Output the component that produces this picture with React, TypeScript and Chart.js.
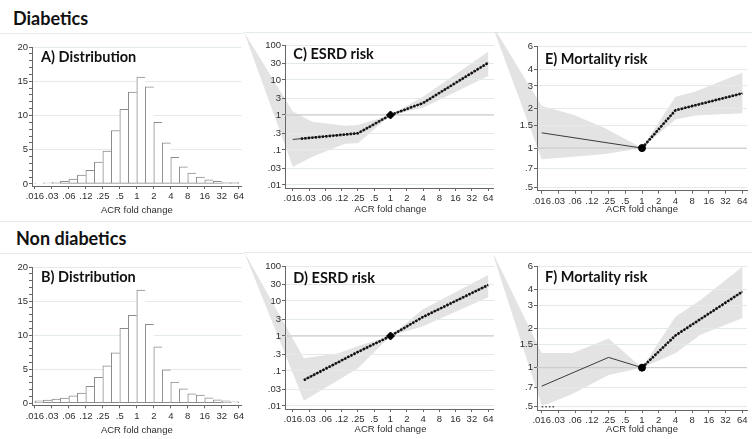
import React, { useEffect, useRef } from 'react';
import { Chart, registerables } from 'chart.js';

Chart.register(...registerables);
Chart.defaults.font.family = "'Liberation Sans', Arial, sans-serif";

// ---------------- data ----------------
const xTickValues = [1 / 64, 1 / 32, 1 / 16, 1 / 8, 1 / 4, 1 / 2, 1, 2, 4, 8, 16, 32, 64];
const xTickLabels = ['.016', '.03', '.06', '.12', '.25', '.5', '1', '2', '4', '8', '16', '32', '64'];

// histogram bins (centres, log2 of ACR fold change, half-octave bins)
const binCentersLog2 = [-5.75, -5.25, -4.75, -4.25, -3.75, -3.25, -2.75, -2.25, -1.75, -1.25, -0.75, -0.25,
  0.25, 0.75, 1.25, 1.75, 2.25, 2.75, 3.25, 3.75, 4.25, 4.75, 5.25, 5.75];
const distDiabetics = [0.1, 0.15, 0.25, 0.4, 0.7, 1.3, 2.0, 3.2, 4.8, 7.8, 10.9, 13.4,
  15.6, 14.2, 9.0, 6.0, 3.9, 2.5, 1.6, 1.0, 0.6, 0.4, 0.2, 0.2];
const distNonDiabetics = [0.35, 0.45, 0.6, 0.75, 1.1, 1.5, 2.5, 3.8, 5.5, 7.4, 11.0, 12.9,
  16.6, 11.6, 8.3, 4.9, 3.1, 2.1, 1.4, 1.2, 0.8, 0.5, 0.35, 0.2];
const distTickValues = [0, 1, 2, 3, 4, 5, 6, 7, 8, 9, 10, 11, 12, 13, 14, 15, 16, 17, 18, 19, 20];

const esrdTickValues = [0.01, 0.03, 0.1, 0.3, 1, 3, 10, 30, 100];
const esrdTickLabels = ['.01', '.03', '.1', '.3', '1', '3', '10', '30', '100'];
const mortTickValues = [0.5, 0.7, 1, 1.5, 2, 3, 4, 6];
const mortTickLabels = ['.5', '.7', '1', '1.5', '2', '3', '4', '6'];

// C) ESRD risk, diabetics
const esrdDiabX = [1 / 64, 0.25, 1, 4, 64];
const esrdDiabHR = [0.2, 0.3, 1, 2.2, 31];
const esrdDiabSigX = [0.022, 0.25, 1, 4, 64];
const esrdDiabSigHR = [0.21, 0.3, 1, 2.2, 31];
const esrdDiabBandX = [1 / 512, 1 / 64, 0.036, 0.144, 0.25, 1, 4, 64];
const esrdDiabUpper = [235, 1.25, 0.64, 0.49, 0.52, 1, 3.3, 64];
const esrdDiabLower = [235, 0.033, 0.064, 0.15, 0.155, 1, 1.6, 13];

// D) ESRD risk, non diabetics
const esrdNonX = [0.025, 0.25, 1, 4, 64];
const esrdNonHR = [0.055, 0.35, 1, 3.5, 28.6];
const esrdNonBandX = [1 / 512, 0.025, 0.109, 0.25, 1, 4, 64];
const esrdNonUpper = [257, 0.23, 0.32, 0.52, 1, 5.8, 55];
const esrdNonLower = [257, 0.014, 0.055, 0.12, 1, 1.9, 12.8];

// E) Mortality risk, diabetics
const mortDiabX = [1 / 64, 1, 4, 64];
const mortDiabHR = [1.31, 1, 1.95, 2.63];
const mortDiabSigX = [1, 4, 64];
const mortDiabSigHR = [1, 1.95, 2.63];
const mortDiabBandX = [1 / 512, 1 / 64, 0.058, 0.218, 1, 4, 9.2, 64];
const mortDiabUpper = [9, 2.1, 1.8, 1.42, 1, 2.48, 2.72, 3.78];
const mortDiabLower = [9, 0.82, 0.86, 0.9, 1, 1.66, 1.78, 1.85];

// F) Mortality risk, non diabetics
const mortNonX = [1 / 64, 0.25, 1, 4, 64];
const mortNonHR = [0.72, 1.2, 1, 1.77, 3.85];
const mortNonSigX = [1, 4, 64];
const mortNonSigHR = [1, 1.77, 3.85];
const mortNonLowSigX = [1 / 64, 0.027];
const mortNonLowSigHR = [0.5, 0.5];
const mortNonBandX = [1 / 512, 1 / 64, 0.021, 0.057, 0.25, 1, 4, 11.3, 64];
const mortNonUpper = [8.1, 1.3, 1.3, 1.3, 1.68, 1, 2.47, 3.33, 6.0];
const mortNonLower = [8.1, 0.51, 0.53, 0.63, 0.88, 1, 1.29, 1.79, 2.4];

// ---------------- layout / style ----------------
type Geom = {
  left: number; top: number; width: number; height: number;
  axisW: number; axisH: number; padTop: number; padRight: number;
  xSpan: number; titlePad: number; frameBottom: boolean;
};

const GEOM: Record<string, Geom> = {
  A: { left: 0, top: 33, width: 246, height: 189, axisW: 32, axisH: 36, padTop: 14, padRight: 0, xSpan: 6.17, titlePad: 6.1, frameBottom: true },
  B: { left: 0, top: 253, width: 246, height: 186, axisW: 32, axisH: 33.7, padTop: 14, padRight: 0, xSpan: 6.17, titlePad: 2.9, frameBottom: false },
  C: { left: 244, top: 32, width: 257, height: 190, axisW: 41, axisH: 34, padTop: 13, padRight: 0, xSpan: 6.48, titlePad: 7.1, frameBottom: true },
  D: { left: 244, top: 252, width: 257, height: 187, axisW: 41, axisH: 30, padTop: 14, padRight: 0, xSpan: 6.48, titlePad: 4.1, frameBottom: false },
  E: { left: 494, top: 32, width: 258, height: 190, axisW: 43, axisH: 31.3, padTop: 14.7, padRight: 2.2, xSpan: 6.28, titlePad: 6.6, frameBottom: true },
  F: { left: 494, top: 252, width: 258, height: 187, axisW: 43, axisH: 28.9, padTop: 14.7, padRight: 2.2, xSpan: 6.28, titlePad: 3.9, frameBottom: false },
};

const GRID = '#e2eaed';
const FRAME = '#e4ebee';
const AXIS = '#666666';
const TEXT = '#2e2e2e';
const BAND = '#e3e3e3';
const tickFont = { family: "'Liberation Sans', Arial, sans-serif", size: 9.5 };

const zip = (xs: number[], ys: number[]) => xs.map((x, i) => ({ x, y: ys[i] }));

function makeFramePlugin(frameBottom: boolean) {
  return {
    id: 'panelFrame',
    beforeDraw(chart: any) {
      const { ctx, width, height } = chart;
      ctx.save();
      ctx.fillStyle = '#ffffff';
      ctx.fillRect(0, 0, width, height);
      ctx.strokeStyle = FRAME;
      ctx.lineWidth = 1;
      ctx.beginPath();
      ctx.moveTo(0, 0.5);
      ctx.lineTo(width, 0.5);
      if (frameBottom) {
        ctx.moveTo(0, height - 0.5);
        ctx.lineTo(width, height - 0.5);
      }
      ctx.stroke();
      // confidence band (from the band datasets, through the chart's scales)
      const ds = chart.data.datasets as any[];
      const up = ds.find((d) => d.bandRole === 'upper');
      const lo = ds.find((d) => d.bandRole === 'lower');
      if (up && lo) {
        const xs = chart.scales.x;
        const ys = chart.scales.y;
        ctx.beginPath();
        up.data.forEach((p: any, i: number) => {
          const px = xs.getPixelForValue(p.x);
          const py = ys.getPixelForValue(p.y);
          if (i === 0) ctx.moveTo(px, py);
          else ctx.lineTo(px, py);
        });
        for (let i = lo.data.length - 1; i >= 0; i--) {
          const p = lo.data[i];
          ctx.lineTo(xs.getPixelForValue(p.x), ys.getPixelForValue(p.y));
        }
        ctx.closePath();
        ctx.fillStyle = BAND;
        ctx.fill();
      }
      ctx.restore();
    },
  };
}

function xScale(g: Geom) {
  return {
    type: 'logarithmic',
    min: Math.pow(2, -g.xSpan),
    max: Math.pow(2, g.xSpan),
    bounds: 'data',
    offset: false,
    afterBuildTicks: (s: any) => { s.ticks = xTickValues.map((v) => ({ value: v })); },
    afterFit: (s: any) => { s.height = g.axisH; },
    ticks: {
      autoSkip: false, maxRotation: 0, minRotation: 0, padding: 2, color: TEXT, font: tickFont,
      callback: (_v: any, i: number) => xTickLabels[i],
    },
    grid: { drawOnChartArea: false, drawTicks: true, tickLength: 3, tickColor: AXIS, offset: false },
    border: { display: true, color: AXIS, width: 1 },
    title: {
      display: true, text: 'ACR fold change', color: TEXT,
      font: { ...tickFont, lineHeight: 1.2 }, padding: { top: 0, bottom: g.titlePad },
    },
  };
}

function baseOptions(g: Geom) {
  return {
    responsive: false,
    animation: false,
    devicePixelRatio: 1,
    events: [],
    layout: { padding: { top: g.padTop, right: g.padRight, bottom: 0, left: 0 } },
    plugins: { legend: { display: false }, tooltip: { enabled: false }, title: { display: false } },
  };
}

function histConfig(g: Geom, values: number[]) {
  const n = values.length;
  return {
    type: 'bar',
    data: {
      datasets: [{
        data: binCentersLog2.map((c, i) => ({ x: Math.pow(2, c), y: values[i] })),
        backgroundColor: '#ffffff',
        borderColor: '#8c8c8c',
        borderWidth: (ctx: any) => (ctx.dataIndex === n - 1
          ? { left: 1, top: 1, right: 1, bottom: 1 }
          : { left: 1, top: 1, right: 0, bottom: 1 }),
        borderSkipped: false,
        barPercentage: 1,
        categoryPercentage: 1,
      }],
    },
    options: {
      ...baseOptions(g),
      scales: {
        x: xScale(g),
        y: {
          type: 'linear', min: -0.3, max: 20, bounds: 'data',
          afterBuildTicks: (s: any) => { s.ticks = distTickValues.map((v) => ({ value: v })); },
          afterFit: (s: any) => { s.width = g.axisW; },
          ticks: {
            autoSkip: false, padding: 1, color: TEXT, font: tickFont,
            callback: (v: any) => (Number(v) % 5 === 0 ? String(v) : ''),
          },
          grid: {
            drawTicks: true, tickLength: 3, tickColor: AXIS,
            color: (ctx: any) => (ctx.tick && ctx.tick.value > 0 && ctx.tick.value % 5 === 0 ? GRID : 'rgba(0,0,0,0)'),
          },
          border: { display: true, color: AXIS, width: 1 },
        },
      },
    },
    plugins: [makeFramePlugin(g.frameBottom)],
  };
}

type RiskSpec = {
  lineX: number[]; lineY: number[];
  sigX: number[]; sigY: number[];
  extraSigX?: number[]; extraSigY?: number[];
  bandX: number[]; bandUp: number[]; bandLo: number[];
  yMin: number; yMax: number; yTicks: number[]; yLabels: string[];
  marker: string; markerR: number;
};

function riskConfig(g: Geom, s: RiskSpec) {
  const xmin = Math.pow(2, -g.xSpan);
  const xmax = Math.pow(2, g.xSpan);
  const dotted = {
    borderColor: '#111111', borderWidth: 2.6, borderDash: [2.2, 1.3], borderCapStyle: 'butt',
    pointRadius: 0, fill: false,
  };
  const datasets: any[] = [
    { bandRole: 'upper', data: zip(s.bandX, s.bandUp), showLine: false, pointRadius: 0, order: 9 },
    { bandRole: 'lower', data: zip(s.bandX, s.bandLo), showLine: false, pointRadius: 0, order: 9 },
    { data: [{ x: xmin, y: 1 }, { x: xmax, y: 1 }], borderColor: '#c6c6c6', borderWidth: 1, pointRadius: 0, order: 6 },
    { data: zip(s.lineX, s.lineY), borderColor: '#3a3a3a', borderWidth: 1, pointRadius: 0, order: 5 },
    { data: zip(s.sigX, s.sigY), ...dotted, order: 4 },
  ];
  if (s.extraSigX && s.extraSigY) {
    datasets.push({ data: zip(s.extraSigX, s.extraSigY), ...dotted, borderWidth: 1.6, borderDash: [1.6, 2], borderColor: '#555', order: 3 });
  }
  datasets.push({
    data: [{ x: 1, y: 1 }], showLine: false, pointRadius: s.markerR, pointStyle: s.marker,
    pointBackgroundColor: '#000', pointBorderColor: '#000', pointBorderWidth: 1, order: 0,
  });
  return {
    type: 'line',
    data: { datasets },
    options: {
      ...baseOptions(g),
      scales: {
        x: xScale(g),
        y: {
          type: 'logarithmic', min: s.yMin, max: s.yMax, bounds: 'data',
          afterBuildTicks: (sc: any) => { sc.ticks = s.yTicks.map((v) => ({ value: v })); },
          afterFit: (sc: any) => { sc.width = g.axisW; },
          ticks: {
            autoSkip: false, padding: 1, color: TEXT, font: tickFont,
            callback: (_v: any, i: number) => s.yLabels[i],
          },
          grid: { drawTicks: true, tickLength: 3, tickColor: AXIS, color: GRID },
          border: { display: true, color: AXIS, width: 1 },
        },
      },
    },
    plugins: [makeFramePlugin(g.frameBottom)],
  };
}

function ChartCanvas({ g, make }: { g: Geom; make: () => any }) {
  const ref = useRef<HTMLCanvasElement>(null);
  useEffect(() => {
    if (!ref.current) return;
    const chart = new Chart(ref.current, make());
    return () => chart.destroy();
  }, []);
  return (
    <canvas
      ref={ref}
      width={g.width}
      height={g.height}
      style={{ position: 'absolute', left: g.left, top: g.top, width: g.width, height: g.height, display: 'block' }}
    />
  );
}

const headingStyle: React.CSSProperties = {
  position: 'absolute', fontFamily: 'Lato, "Open Sans", sans-serif', fontWeight: 700,
  fontSize: 18, lineHeight: '18px', color: '#111', whiteSpace: 'nowrap',
};
const panelTitleStyle: React.CSSProperties = {
  position: 'absolute', fontFamily: 'Lato, "Open Sans", sans-serif', fontWeight: 700,
  fontSize: 14.5, lineHeight: '14.5px', color: '#111', whiteSpace: 'nowrap',
};

export default function App() {
  return (
    <div style={{ position: 'absolute', left: 0, top: 0, width: 752, height: 439, background: '#fff', overflow: 'hidden' }}>
      <ChartCanvas g={GEOM.A} make={() => histConfig(GEOM.A, distDiabetics)} />
      <ChartCanvas g={GEOM.C} make={() => riskConfig(GEOM.C, {
        lineX: esrdDiabX, lineY: esrdDiabHR, sigX: esrdDiabSigX, sigY: esrdDiabSigHR,
        bandX: esrdDiabBandX, bandUp: esrdDiabUpper, bandLo: esrdDiabLower,
        yMin: 0.0082, yMax: 100, yTicks: esrdTickValues, yLabels: esrdTickLabels, marker: 'rectRot', markerR: 4,
      })} />
      <ChartCanvas g={GEOM.E} make={() => riskConfig(GEOM.E, {
        lineX: mortDiabX, lineY: mortDiabHR, sigX: mortDiabSigX, sigY: mortDiabSigHR,
        bandX: mortDiabBandX, bandUp: mortDiabUpper, bandLo: mortDiabLower,
        yMin: 0.471, yMax: 6, yTicks: mortTickValues, yLabels: mortTickLabels, marker: 'circle', markerR: 3.5,
      })} />
      <ChartCanvas g={GEOM.B} make={() => histConfig(GEOM.B, distNonDiabetics)} />
      <ChartCanvas g={GEOM.D} make={() => riskConfig(GEOM.D, {
        lineX: esrdNonX, lineY: esrdNonHR, sigX: esrdNonX, sigY: esrdNonHR,
        bandX: esrdNonBandX, bandUp: esrdNonUpper, bandLo: esrdNonLower,
        yMin: 0.0082, yMax: 100, yTicks: esrdTickValues, yLabels: esrdTickLabels, marker: 'rectRot', markerR: 4,
      })} />
      <ChartCanvas g={GEOM.F} make={() => riskConfig(GEOM.F, {
        lineX: mortNonX, lineY: mortNonHR, sigX: mortNonSigX, sigY: mortNonSigHR,
        extraSigX: mortNonLowSigX, extraSigY: mortNonLowSigHR,
        bandX: mortNonBandX, bandUp: mortNonUpper, bandLo: mortNonLower,
        yMin: 0.471, yMax: 6, yTicks: mortTickValues, yLabels: mortTickLabels, marker: 'circle', markerR: 3.5,
      })} />

      <div style={{ ...headingStyle, left: 13, top: 9 }}>Diabetics</div>
      <div style={{ ...headingStyle, left: 16, top: 229 }}>Non diabetics</div>

      <div style={{ ...panelTitleStyle, left: 41, top: 50.4 }}>A) Distribution</div>
      <div style={{ ...panelTitleStyle, left: 41, top: 269.8 }}>B) Distribution</div>
      <div style={{ ...panelTitleStyle, left: 293.3, top: 47.1 }}>C) ESRD risk</div>
      <div style={{ ...panelTitleStyle, left: 293.3, top: 271.1 }}>D) ESRD risk</div>
      <div style={{ ...panelTitleStyle, left: 545, top: 52.1 }}>E) Mortality risk</div>
      <div style={{ ...panelTitleStyle, left: 545, top: 269.8 }}>F) Mortality risk</div>
    </div>
  );
}
